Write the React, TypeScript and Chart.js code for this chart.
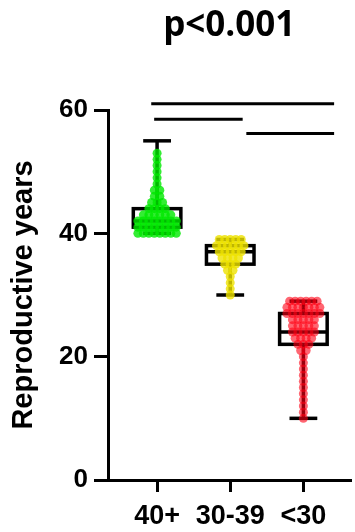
import React, { useEffect, useRef } from 'react';
import { Chart, registerables } from 'chart.js';

Chart.register(...registerables);

// Age-at-menarche / menopause groups
const groups = ['40+', '30-39', '<30'];
const groupColors = ['rgba(0, 232, 0, 0.8)', 'rgba(238, 226, 0, 0.8)', 'rgba(255, 0, 20, 0.6)'];

// Individual reproductive-year values per group
const years40Plus = [
  40, 40, 40, 40, 40, 40, 40, 40,
  41, 41, 41, 41, 41, 41, 41, 41,
  42, 42, 42, 42, 42, 42, 42, 42,
  43, 43, 43, 43, 43, 43,
  44, 44, 44, 44,
  45, 45, 45,
  46, 46,
  47, 47,
  48, 49, 50, 51, 52, 53,
];
const years30to39 = [
  39, 39, 39, 39, 39,
  38, 38, 38, 38, 38, 38,
  37, 37, 37, 37, 37,
  36, 36, 36, 36,
  35, 35, 35,
  34, 34,
  33, 32, 31, 30,
];
const yearsUnder30 = [
  29, 29, 29, 29, 29, 29,
  28, 28, 28, 28, 28, 28, 28,
  27, 27, 27, 27, 27, 27, 27,
  26, 26, 26, 26, 26,
  25, 25, 25, 25, 25,
  24, 24, 24, 24, 24,
  23, 23, 23, 23,
  22, 22, 22,
  21, 21,
  20, 19, 18, 17, 16, 15, 14, 13, 12, 11, 10,
];
const groupValues = [years40Plus, years30to39, yearsUnder30];

// Box-and-whisker summary per group
const boxMin = [40, 30, 10];
const boxQ1 = [41, 35, 22];
const boxMedian = [42, 37, 24];
const boxQ3 = [44, 38, 27];
const boxMax = [55, 39, 29];

// Pairwise comparison bars (x extent in group units, y level in years)
const bracketStart = [-0.08, -0.04, 1.22];
const bracketEnd = [2.42, 1.17, 2.42];
const bracketLevel = [61, 58.5, 56.2];

const yTicks = [0, 20, 40, 60];

const BOX_WIDTH = 0.65;
const CAP_WIDTH = 0.38;
const SWARM_STEP = 0.075;

// Spread equal values side by side around the group centre
function swarm(values: number[], groupIndex: number) {
  const counts = new Map<number, number>();
  values.forEach((v) => counts.set(v, (counts.get(v) || 0) + 1));
  const seen = new Map<number, number>();
  return values.map((v) => {
    const n = counts.get(v) || 1;
    const k = seen.get(v) || 0;
    seen.set(v, k + 1);
    return { x: groupIndex + (k - (n - 1) / 2) * SWARM_STEP, y: v };
  });
}

const boxPlugin = {
  id: 'boxWhiskers',
  beforeDatasetsDraw(chart: any) {
    const { ctx } = chart;
    const x = chart.scales.x;
    const y = chart.scales.y;
    ctx.save();
    ctx.strokeStyle = '#000';
    ctx.lineWidth = 3.5;
    const seg = (x0: number, y0: number, x1: number, y1: number) => {
      ctx.beginPath();
      ctx.moveTo(x0, y0);
      ctx.lineTo(x1, y1);
      ctx.stroke();
    };
    groups.forEach((_, i) => {
      const cx = x.getPixelForValue(i);
      const bw = x.getPixelForValue(i + BOX_WIDTH / 2) - cx;
      const cw = x.getPixelForValue(i + CAP_WIDTH / 2) - cx;
      const yMin = y.getPixelForValue(boxMin[i]);
      const yQ1 = y.getPixelForValue(boxQ1[i]);
      const yMed = y.getPixelForValue(boxMedian[i]);
      const yQ3 = y.getPixelForValue(boxQ3[i]);
      const yMax = y.getPixelForValue(boxMax[i]);
      seg(cx, yMin, cx, yQ1);
      seg(cx, yQ3, cx, yMax);
      seg(cx - cw, yMin, cx + cw, yMin);
      seg(cx - cw, yMax, cx + cw, yMax);
      ctx.strokeRect(cx - bw, yQ3, 2 * bw, yQ1 - yQ3);
      seg(cx - bw, yMed, cx + bw, yMed);
    });
    ctx.restore();
  },
};

const labelFont = "'Liberation Sans', Arial, sans-serif";

export default function App() {
  const canvasRef = useRef<HTMLCanvasElement | null>(null);

  useEffect(() => {
    if (!canvasRef.current) return;

    const pointSets = groupValues.map((vals, i) => ({
      type: 'scatter' as const,
      data: swarm(vals, i),
      backgroundColor: groupColors[i],
      borderWidth: 0,
      pointRadius: 4.5,
      order: 2,
    }));

    const bracketSets = bracketLevel.map((lvl, i) => ({
      type: 'scatter' as const,
      data: [
        { x: bracketStart[i], y: lvl },
        { x: bracketEnd[i], y: lvl },
      ],
      showLine: true,
      borderColor: '#000',
      borderWidth: 3,
      pointRadius: 0,
      clip: false,
      order: 1,
    }));

    const chart = new Chart(canvasRef.current, {
      type: 'scatter',
      data: { datasets: [...pointSets, ...bracketSets] as any },
      plugins: [boxPlugin],
      options: {
        animation: false,
        responsive: true,
        maintainAspectRatio: false,
        layout: { padding: 0 },
        plugins: {
          legend: { display: false },
          tooltip: { enabled: false },
          title: {
            display: true,
            text: 'p<0.001',
            fullSize: false,
            color: '#000',
            font: { family: "'Open Sans', sans-serif", size: 35, weight: 'bold', lineHeight: 1.2 },
            padding: { top: 5, bottom: 63 },
          },
        },
        scales: {
          x: {
            type: 'linear',
            min: -0.671,
            max: 2.644,
            afterBuildTicks: (s: any) => {
              s.ticks = groups.map((_, i) => ({ value: i }));
            },
            afterFit: (s: any) => {
              s.height = 52;
            },
            ticks: {
              callback: (v: any) => groups[v] ?? '',
              color: '#000',
              font: { family: labelFont, size: 27, weight: 'bold' },
              padding: 8,
              maxRotation: 0,
              autoSkip: false,
            },
            grid: { drawOnChartArea: false, tickLength: 12, lineWidth: 3, color: '#000' },
            border: { width: 3, color: '#000' },
          },
          y: {
            min: 0,
            max: 60,
            afterBuildTicks: (s: any) => {
              s.ticks = yTicks.map((v) => ({ value: v }));
            },
            afterFit: (s: any) => {
              s.width = 108;
            },
            title: {
              display: true,
              text: 'Reproductive years',
              color: '#000',
              font: { family: labelFont, size: 29, weight: 'bold', lineHeight: 1.2 },
              padding: { top: 7, bottom: 0 },
            },
            ticks: {
              color: '#000',
              font: { family: labelFont, size: 26, weight: 'bold' },
              padding: 6,
            },
            grid: { drawOnChartArea: false, tickLength: 14, lineWidth: 3, color: '#000' },
            border: { width: 3, color: '#000' },
          },
        },
      } as any,
    });

    return () => chart.destroy();
  }, []);

  return (
    <div style={{ position: 'absolute', left: 0, top: 0, width: 355, height: 532, background: '#fff' }}>
      <canvas ref={canvasRef} />
    </div>
  );
}
